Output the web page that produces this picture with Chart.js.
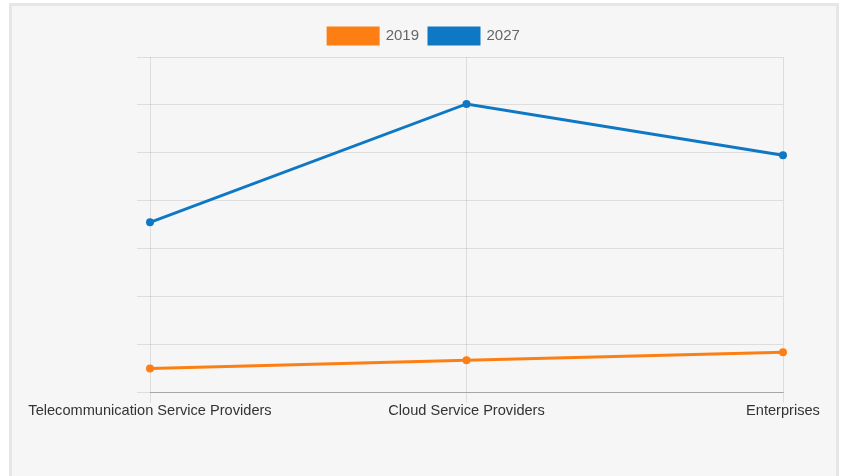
<!DOCTYPE html>
<html>
<head>
<meta charset="utf-8">
<script src="https://cdn.jsdelivr.net/npm/chart.js@4/dist/chart.umd.min.js"></script>
<style>
  html, body { margin: 0; padding: 0; background: #fff; }
  .frame {
    position: absolute; left: 9px; top: 3px;
    width: 824px; height: 480px;
    border: 3px solid #e6e6e6; border-bottom: none;
    background: #f6f6f6;
  }
  canvas { display: block; }
</style>
</head>
<body>
<div class="frame">
  <canvas id="marketChart" width="824" height="470"></canvas>
</div>
<script>
const categories = ['Telecommunication Service Providers', 'Cloud Service Providers', 'Enterprises'];
const seriesNames = ['2019', '2027'];
const values2019 = [5.0, 6.7, 8.4];
const values2027 = [35.5, 60.2, 49.5];
const seriesColors = ['#fd7f14', '#0f78c4'];

const data = {
  labels: categories,
  datasets: [{
    label: seriesNames[0],
    data: values2019,
    borderColor: seriesColors[0],
    backgroundColor: seriesColors[0],
    pointBackgroundColor: seriesColors[0],
    borderWidth: 3,
    pointRadius: 4,
    pointBorderWidth: 0,
    tension: 0,
  }, {
    label: seriesNames[1],
    data: values2027,
    borderColor: seriesColors[1],
    backgroundColor: seriesColors[1],
    pointBackgroundColor: seriesColors[1],
    borderWidth: 3,
    pointRadius: 4,
    pointBorderWidth: 0,
    tension: 0,
  }],
};

// a bit more room under the legend
const legendGap = {
  id: 'legendGap',
  beforeInit(chart) {
    const fit = chart.legend.fit;
    chart.legend.fit = function () {
      fit.bind(chart.legend)();
      this.height += 3;
    };
  },
};

const options = {
  responsive: false,
  animation: false,
  layout: {
    padding: { left: 0, right: 0, top: 12, bottom: 56 }
  },
  plugins: {
    legend: {
      display: true,
      position: 'top',
      labels: {
        boxWidth: 50,
        boxHeight: 16,
        color: '#666',
        padding: 10,
        font: { family: '"Liberation Sans", Arial, sans-serif', size: 15 },
      },
    },
    tooltip: { enabled: false },
  },
  scales: {
    x: {
      grid: { color: 'rgba(0,0,0,0.1)', tickLength: 10 },
      border: { color: 'rgba(0,0,0,0.25)' },
      ticks: {
        color: '#333',
        padding: 0,
        maxRotation: 0,
        font: { family: '"Liberation Sans", Arial, sans-serif', size: 14.6 },
      },
    },
    y: {
      min: 0,
      max: 70,
      grid: { color: 'rgba(0,0,0,0.1)', tickLength: 13 },
      border: { display: false },
      ticks: { display: false, stepSize: 10 },
      afterFit: (scale) => { scale.width = 138; },
    },
    // empty axis that only keeps room on the right side
    yRight: {
      position: 'right',
      grid: { display: false },
      border: { display: false },
      ticks: { display: false },
      afterFit: (scale) => { scale.width = 53; },
    },
  },
};

const ctx = document.getElementById('marketChart').getContext('2d');
const marketChart = new Chart(ctx, {
  type: 'line',
  data: data,
  options: options,
  plugins: [legendGap],
});
</script>
</body>
</html>
